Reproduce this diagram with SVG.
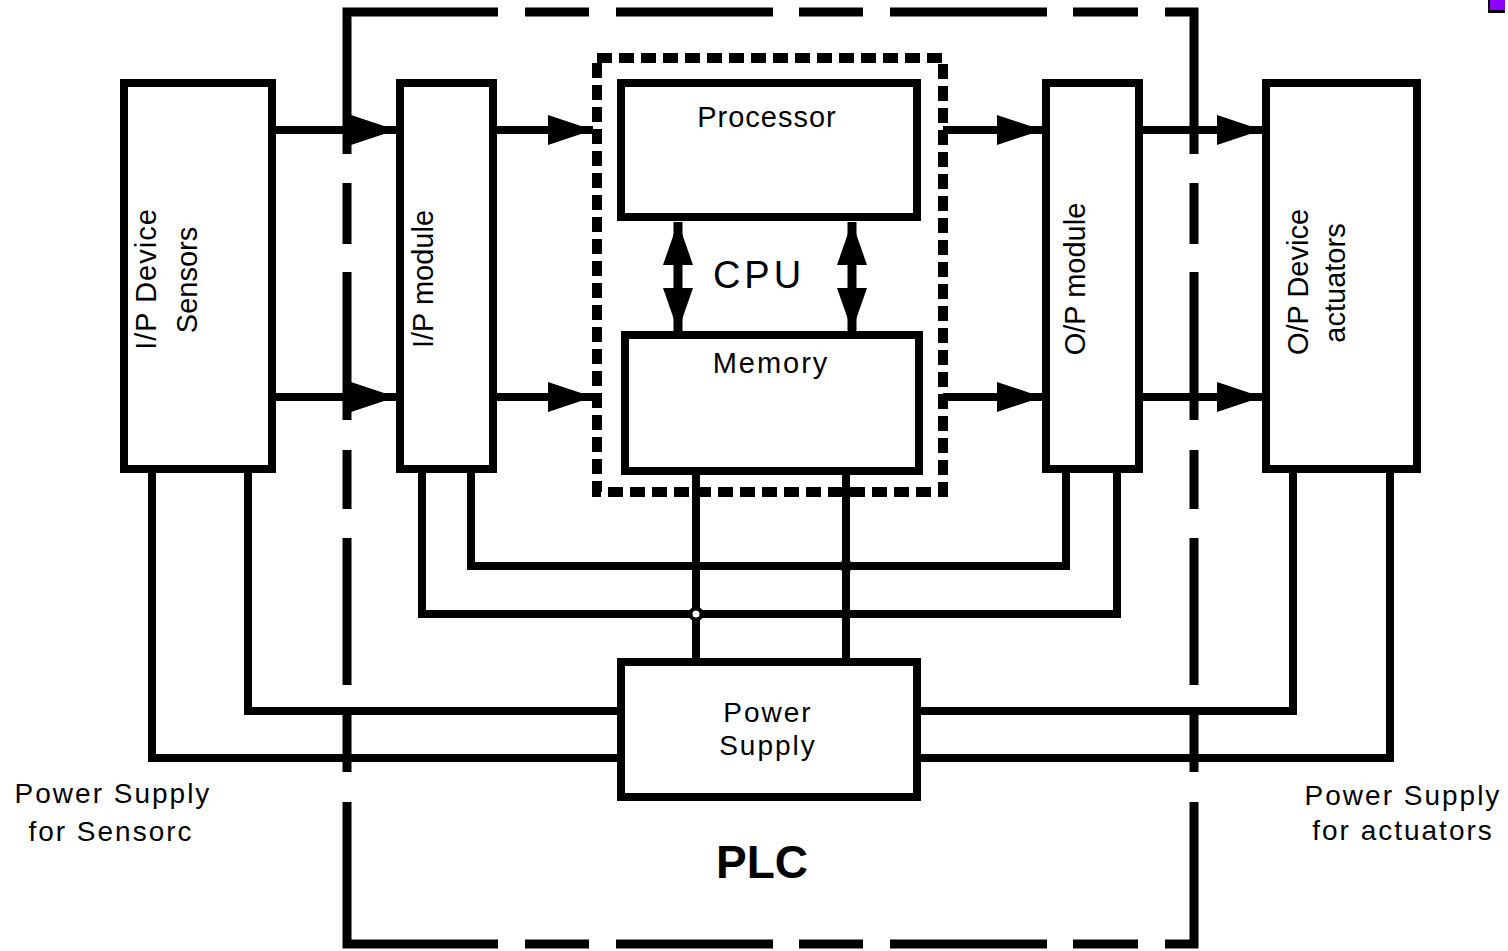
<svg xmlns="http://www.w3.org/2000/svg" width="1508" height="951" viewBox="0 0 1508 951">
<defs>
<style>
.box{fill:#fff;stroke:#000;stroke-width:8}
.ln{fill:none;stroke:#000;stroke-width:8}
.plc{fill:none;stroke:#000;stroke-width:9}
.cpu{fill:none;stroke:#000;stroke-width:10;stroke-dasharray:15 7}
.t{font-family:"Liberation Sans",Arial,sans-serif;fill:#000;font-size:29px;text-anchor:middle}
</style>
<marker id="ah" markerWidth="46" markerHeight="32" refX="45" refY="16" orient="auto-start-reverse" markerUnits="userSpaceOnUse"><path d="M0,1 L45,16 L0,31 Z" fill="#000"/></marker>
<marker id="dh" markerWidth="44" markerHeight="32" refX="43" refY="16" orient="auto-start-reverse" markerUnits="userSpaceOnUse"><path d="M0,1 L43,16 L0,31 Z" fill="#000"/></marker>
</defs>
<rect width="1508" height="951" fill="#fff"/>
<g id="plc-boundary">
<path class="plc" d="M347,154 V12 H498 M525,12 H589 M616,12 H773 M799,12 H863 M890,12 H1047 M1073,12 H1138 M1165,12 H1194 V154"/>
<path class="plc" d="M347,183 V244 M347,272 V420 M347,450 V509 M347,538 V685 M347,715 V772 M347,802 V944 H498 M525,944 H589 M616,944 H773 M799,944 H863 M890,944 H1047 M1073,944 H1138 M1165,944 H1194 V802 M1194,772 V715 M1194,685 V538 M1194,509 V450 M1194,420 V272 M1194,244 V183"/>
<text class="t" x="762" y="878" style="font-size:46px;font-weight:bold">PLC</text>
</g>
<g id="cpu">
<rect class="cpu" x="597" y="58" width="346" height="434"/>
<text class="t" x="759" y="288" style="font-size:38px;letter-spacing:4px">CPU</text>
</g>
<g id="connectors">
<line class="ln" x1="272" y1="130" x2="396" y2="130" marker-end="url(#ah)"/>
<line class="ln" x1="272" y1="397" x2="396" y2="397" marker-end="url(#ah)"/>
<line class="ln" x1="493" y1="130" x2="593" y2="130" marker-end="url(#ah)"/>
<line class="ln" x1="493" y1="397" x2="593" y2="397" marker-end="url(#ah)"/>
<line class="ln" x1="943" y1="130" x2="1042" y2="130" marker-end="url(#ah)"/>
<line class="ln" x1="943" y1="397" x2="1042" y2="397" marker-end="url(#ah)"/>
<line class="ln" x1="1139" y1="130" x2="1262" y2="130" marker-end="url(#ah)"/>
<line class="ln" x1="1139" y1="397" x2="1262" y2="397" marker-end="url(#ah)"/>
<line class="ln" style="stroke-width:9" x1="678" y1="222" x2="678" y2="331" marker-start="url(#dh)" marker-end="url(#dh)"/>
<line class="ln" style="stroke-width:9" x1="852" y1="222" x2="852" y2="331" marker-start="url(#dh)" marker-end="url(#dh)"/>
<path class="ln" d="M152,469 V758 H621"/>
<path class="ln" d="M248,469 V711 H621"/>
<path class="ln" d="M471,469 V566 H1066 V469"/>
<path class="ln" d="M422,469 V614 H1117 V469"/>
<path class="ln" d="M696,471 V662"/>
<path class="ln" d="M846,471 V662"/>
<path class="ln" d="M917,711 H1293 V469"/>
<path class="ln" d="M917,758 H1390 V469"/>
<circle cx="696" cy="614" r="5.5" fill="#fff" stroke="#000" stroke-width="4"/>
<circle cx="846" cy="566" r="6.5" fill="#000"/>
</g>
<g id="sensors">
<rect class="box" x="124" y="83" width="148" height="386"/>
<text class="t" transform="translate(156,279) rotate(-90)" style="letter-spacing:1px">I/P Device</text>
<text class="t" transform="translate(197,280) rotate(-90)">Sensors</text>
</g>
<g id="ip-module">
<rect class="box" x="400" y="83" width="93" height="386"/>
<text class="t" transform="translate(433,279) rotate(-90)">I/P module</text>
</g>
<g id="processor">
<rect class="box" x="621" y="83" width="296" height="134"/>
<text class="t" x="767" y="127" style="letter-spacing:1px">Processor</text>
</g>
<g id="memory">
<rect class="box" x="625" y="335" width="294" height="136"/>
<text class="t" x="771" y="373" style="letter-spacing:2px">Memory</text>
</g>
<g id="op-module">
<rect class="box" x="1046" y="83" width="93" height="386"/>
<text class="t" transform="translate(1085,279) rotate(-90)">O/P module</text>
</g>
<g id="actuators">
<rect class="box" x="1266" y="83" width="151" height="386"/>
<text class="t" transform="translate(1308,282) rotate(-90)">O/P Device</text>
<text class="t" transform="translate(1345,283) rotate(-90)">actuators</text>
</g>
<g id="power-supply">
<rect class="box" x="621" y="662" width="296" height="135"/>
<text class="t" x="768" y="722" style="font-size:28px;letter-spacing:2px">Power</text>
<text class="t" x="768" y="755" style="font-size:28px;letter-spacing:2px">Supply</text>
</g>
<g id="labels">
<text class="t" x="113" y="803" style="font-size:28px;letter-spacing:2px">Power Supply</text>
<text class="t" x="111" y="841" style="font-size:28px;letter-spacing:2px">for Sensorc</text>
<text class="t" x="1403" y="805" style="font-size:28px;letter-spacing:2px">Power Supply</text>
<text class="t" x="1403" y="840" style="font-size:28px;letter-spacing:2px">for actuators</text>
</g>
<g id="corner-mark">
<rect x="1488" y="0" width="17" height="13" fill="#000"/>
<rect x="1490" y="0" width="15" height="10" fill="#8c00ff"/>
</g>
</svg>
